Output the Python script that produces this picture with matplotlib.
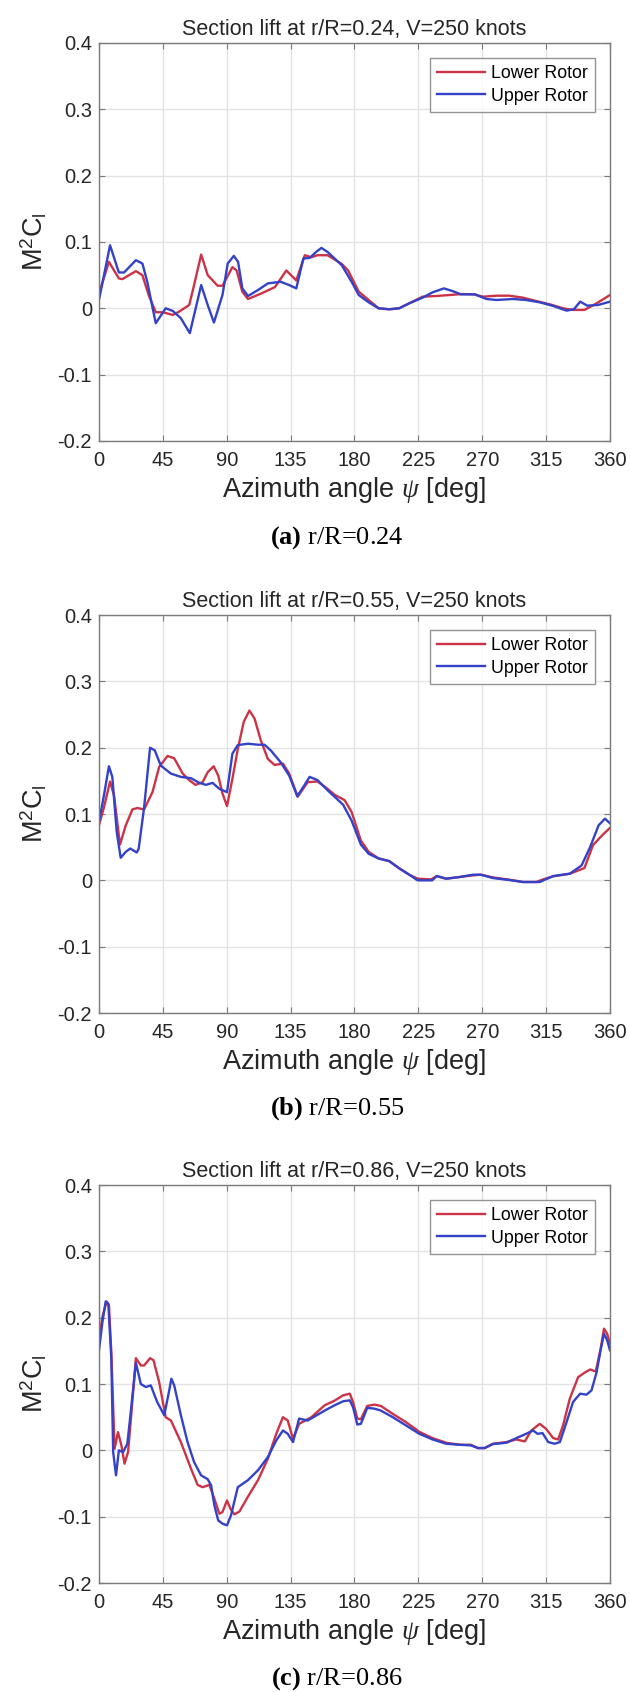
import matplotlib
matplotlib.use("Agg")
import matplotlib.pyplot as plt

plt.rcParams["font.family"] = ["Liberation Sans", "DejaVu Sans"]
plt.rcParams["mathtext.fontset"] = "custom"
plt.rcParams["mathtext.rm"] = "Liberation Sans"
plt.rcParams["mathtext.it"] = "Liberation Serif:italic"
plt.rcParams["mathtext.bf"] = "Liberation Serif:bold"

# panel (a) r/R=0.24
psi_a_low = [0, 7, 14, 16.5, 26, 30.6, 35, 40, 45, 52, 56.5, 63.6, 67, 72, 76.6, 83.6, 87, 94, 97, 101,
             105, 114, 124, 132, 139, 145, 149.6, 154, 161, 171, 175.5, 183, 190, 197, 204.5, 211.5, 220,
             228, 237.5, 247, 256, 264.6, 270.5, 280, 289, 298.7, 308, 317.6, 327, 334, 342, 350.6, 360]
cl_a_low = [0.022, 0.07, 0.045, 0.044, 0.056, 0.05, 0.02, -0.006, -0.006, -0.01, -0.005, 0.005, 0.035,
            0.081, 0.05, 0.034, 0.034, 0.062, 0.057, 0.025, 0.014, 0.022, 0.032, 0.057, 0.042, 0.08,
            0.077, 0.08, 0.08, 0.067, 0.057, 0.025, 0.0125, 0.0, -0.0015, 0.0, 0.009, 0.0175, 0.0185,
            0.02, 0.0215, 0.021, 0.0175, 0.019, 0.019, 0.016, 0.011, 0.006, 0.0, -0.0025, -0.0025,
            0.0075, 0.02]
psi_a_up = [0, 7.8, 14, 17.7, 26, 30.6, 34, 40, 47, 52, 57.7, 64, 72, 76.6, 81, 87, 90.7, 95, 98, 101,
            105, 112, 119, 128, 134, 139, 144, 148.5, 153, 156.7, 161, 171, 178, 183, 190, 197, 204.5,
            211.5, 218.6, 228, 235, 243, 249, 255, 264.6, 273, 280, 291.7, 301, 310.5, 320, 329.4,
            334.6, 339, 344, 351.7, 360]
cl_a_up = [0.0125, 0.095, 0.054, 0.054, 0.0725, 0.0675, 0.04, -0.0225, 0.0, -0.004, -0.015, -0.0375,
           0.035, 0.005, -0.0215, 0.02, 0.0675, 0.079, 0.07, 0.03, 0.0185, 0.0275, 0.0375, 0.04, 0.035,
           0.03, 0.075, 0.076, 0.085, 0.091, 0.085, 0.065, 0.04, 0.02, 0.009, 0.0, -0.0015, 0.0, 0.0075,
           0.016, 0.024, 0.03, 0.026, 0.021, 0.021, 0.014, 0.0125, 0.014, 0.0125, 0.009, 0.0035,
           -0.0035, -0.0015, 0.01, 0.004, 0.005, 0.01]

# panel (b) r/R=0.55
psi_b_low = [0, 3.5, 7.8, 10.6, 14.8, 18.9, 23.6, 27, 31.8, 37.7, 42.4, 48.3, 53, 59, 63.6, 68, 73,
             76.6, 80.8, 84, 87, 90.2, 94, 97.8, 102, 106, 109.6, 114, 119, 123.7, 129.6, 134, 140,
             147, 154, 161, 166, 173, 178, 184.5, 190, 197, 204.5, 211.6, 218.6, 224.5, 234, 238,
             244.6, 254, 263.4, 269, 277.5, 289, 298.8, 308, 313, 320, 331.7, 342, 348, 355, 360]
cl_b_low = [0.083, 0.11, 0.149, 0.128, 0.054, 0.083, 0.107, 0.109, 0.107, 0.133, 0.171, 0.1875, 0.184,
            0.161, 0.151, 0.144, 0.148, 0.163, 0.172, 0.158, 0.131, 0.112, 0.153, 0.198, 0.239, 0.256,
            0.244, 0.211, 0.183, 0.174, 0.176, 0.161, 0.126, 0.148, 0.149, 0.138, 0.129, 0.121, 0.103,
            0.06, 0.043, 0.033, 0.029, 0.018, 0.0085, 0.0025, 0.0015, 0.0065, 0.0025, 0.005, 0.0075,
            0.0085, 0.0045, 0.001, -0.0025, -0.0025, 0.0015, 0.006, 0.01, 0.0185, 0.053, 0.069, 0.079]
psi_b_up = [0, 3.5, 7, 9.4, 12.5, 15.3, 18.9, 22, 26.6, 28, 31.8, 36, 39.3, 43.6, 50.6, 57.7, 64.8,
            70.7, 75.4, 80, 84.8, 90.2, 94, 97.8, 105, 112, 116.6, 121, 128, 134, 139.7, 144, 148.4,
            154, 161, 166, 172, 178, 184.5, 190, 197, 204.5, 211.6, 218.6, 224.5, 234.7, 238, 244.6,
            254, 263.4, 269, 277.5, 289, 298.8, 310.5, 320, 331.7, 340, 346, 352, 356.5, 360]
cl_b_up = [0.088, 0.128, 0.172, 0.156, 0.073, 0.034, 0.043, 0.048, 0.042, 0.048, 0.11, 0.2, 0.196,
           0.173, 0.161, 0.156, 0.154, 0.147, 0.144, 0.147, 0.138, 0.133, 0.191, 0.204, 0.206, 0.2045,
           0.2045, 0.196, 0.178, 0.158, 0.127, 0.141, 0.156, 0.151, 0.136, 0.126, 0.114, 0.09, 0.054,
           0.04, 0.033, 0.029, 0.018, 0.0085, 0.0, 0.0, 0.0065, 0.0025, 0.005, 0.0085, 0.0085, 0.0035,
           0.0005, -0.0025, -0.0025, 0.0065, 0.01, 0.0225, 0.05, 0.083, 0.093, 0.086]

# panel (c) r/R=0.86
psi_c_low = [0, 2.4, 5.4, 7, 8.7, 11, 13.4, 15.8, 18, 20.5, 22.9, 26, 29.5, 31.8, 36, 38.4, 42.4, 47,
             50.7, 57.7, 64.8, 69.5, 73, 77.8, 81.3, 84.8, 87, 90.2, 92.6, 95.4, 99, 104.9, 112, 119,
             124.9, 129.6, 133, 136.7, 141, 149.6, 159, 166, 172, 176.7, 179, 182, 184.5, 189, 194,
             198.6, 207, 216, 225.7, 235, 244.6, 254, 262, 267, 271.7, 277.5, 287, 294, 300, 304.6,
             310.5, 315, 320, 323.5, 327, 331.7, 337.6, 342, 346, 350, 353.4, 355.8, 358, 360]
cl_c_low = [0.168, 0.201, 0.2245, 0.219, 0.148, 0.0025, 0.0275, 0.0075, -0.02, -0.0025, 0.058, 0.139,
            0.128, 0.128, 0.139, 0.136, 0.103, 0.05, 0.045, 0.0125, -0.0275, -0.052, -0.0555, -0.052,
            -0.073, -0.0955, -0.093, -0.0755, -0.088, -0.0965, -0.092, -0.07, -0.045, -0.0125, 0.025,
            0.05, 0.045, 0.0175, 0.04, 0.05, 0.068, 0.075, 0.083, 0.0855, 0.073, 0.048, 0.047, 0.067,
            0.069, 0.067, 0.055, 0.043, 0.028, 0.0185, 0.0115, 0.0085, 0.0085, 0.0035, 0.0035, 0.01,
            0.0125, 0.0165, 0.0135, 0.03, 0.04, 0.0325, 0.0185, 0.0165, 0.038, 0.078, 0.1105, 0.117,
            0.122, 0.119, 0.153, 0.1835, 0.176, 0.161]
psi_c_up = [0, 2.4, 4.7, 6.6, 8.7, 10, 12, 14, 17, 20, 22.4, 26, 29.5, 33, 36.5, 41, 46, 49.5, 51, 53,
            57.7, 62.4, 67, 71.9, 76.6, 79, 81.3, 84, 87, 90.2, 93, 97.8, 104.9, 112, 119, 124.9,
            129.6, 133, 136.7, 141, 147, 159, 166, 172, 176.7, 179, 182, 184.5, 189, 194, 198.6, 207,
            216, 225.7, 235, 244.6, 254, 262, 267, 271.7, 277.5, 287, 294, 301, 305.8, 309, 312.5,
            316.5, 321, 324.7, 329.4, 334, 339, 343.5, 347, 350.6, 353.4, 355.8, 358, 360]
cl_c_up = [0.151, 0.193, 0.2245, 0.221, 0.138, -0.0025, -0.0375, 0.0, -0.0025, 0.01, 0.058, 0.132,
           0.1, 0.0955, 0.098, 0.073, 0.053, 0.0905, 0.108, 0.098, 0.053, 0.0125, -0.0175, -0.0375,
           -0.0435, -0.0525, -0.083, -0.1055, -0.1105, -0.113, -0.098, -0.0555, -0.045, -0.03, -0.01,
           0.015, 0.03, 0.025, 0.0125, 0.048, 0.045, 0.06, 0.068, 0.074, 0.0755, 0.065, 0.039, 0.04,
           0.064, 0.063, 0.06, 0.05, 0.038, 0.025, 0.0165, 0.01, 0.0085, 0.0075, 0.0035, 0.0035,
           0.0095, 0.0115, 0.0185, 0.025, 0.03, 0.025, 0.026, 0.0125, 0.01, 0.0125, 0.0425, 0.073,
           0.0855, 0.084, 0.0905, 0.118, 0.151, 0.176, 0.166, 0.151]

panels = [
    ("0.24", "(a)", psi_a_low, cl_a_low, psi_a_up, cl_a_up),
    ("0.55", "(b)", psi_b_low, cl_b_low, psi_b_up, cl_b_up),
    ("0.86", "(c)", psi_c_low, cl_c_low, psi_c_up, cl_c_up),
]
xticks = [0, 45, 90, 135, 180, 225, 270, 315, 360]
yticks = [-0.2, -0.1, 0, 0.1, 0.2, 0.3, 0.4]
ytick_labels = ["-0.2", "-0.1", "0", "0.1", "0.2", "0.3", "0.4"]

red = "#cc3347"
blue = "#3342c8"
txt = "#262626"

fig = plt.figure(figsize=(6.3, 16.92), dpi=100)
bottoms = [0.7394, 0.4013, 0.0644]
cap_y = [0.6820, 0.3448, 0.0080]

for i, (rr, tag, xl, yl, xu, yu) in enumerate(panels):
    ax = fig.add_axes([0.1571, bottoms[i], 0.8111, 0.2352])
    ax.plot(xl, yl, color=red, lw=1.7, label="Lower Rotor")
    ax.plot(xu, yu, color=blue, lw=1.7, label="Upper Rotor")
    ax.set_xlim(0, 360)
    ax.set_ylim(-0.2, 0.4)
    ax.set_xticks(xticks)
    ax.set_yticks(yticks)
    ax.set_yticklabels(ytick_labels)
    ax.grid(True, color="#e3e3e3", lw=1.0)
    ax.set_axisbelow(True)
    for s in ax.spines.values():
        s.set_color("#7a7a7a")
        s.set_linewidth(1.0)
    ax.tick_params(direction="in", length=4, width=0.8, colors="#7a7a7a",
                   labelsize=14.5, labelcolor=txt, top=True, right=True)
    ax.tick_params(axis="x", pad=7)
    ax.tick_params(axis="y", pad=5)
    ax.set_title("Section lift at r/R=%s, V=250 knots" % rr, fontsize=15.5, color=txt, pad=6)
    ax.set_xlabel(r"Azimuth angle $\psi$ [deg]", fontsize=19.5, color=txt, labelpad=4)
    ax.set_ylabel(r"M$^\mathrm{2}$C$_\mathrm{l}$", fontsize=19.5, color=txt, labelpad=6)
    leg = ax.legend(loc="upper right", fontsize=12.8, handlelength=2.7, handletextpad=0.35,
                    labelspacing=0.3, borderpad=0.4, borderaxespad=0.85, fancybox=False)
    leg.get_frame().set_edgecolor("#7a7a7a")
    leg.get_frame().set_linewidth(1.0)
    fig.text(0.535, cap_y[i], r"$\mathbf{%s}$ r/R=%s" % (tag, rr), ha="center", va="center",
             fontsize=19, family="Liberation Serif", color="black")

fig.savefig("out.png", dpi=100)
